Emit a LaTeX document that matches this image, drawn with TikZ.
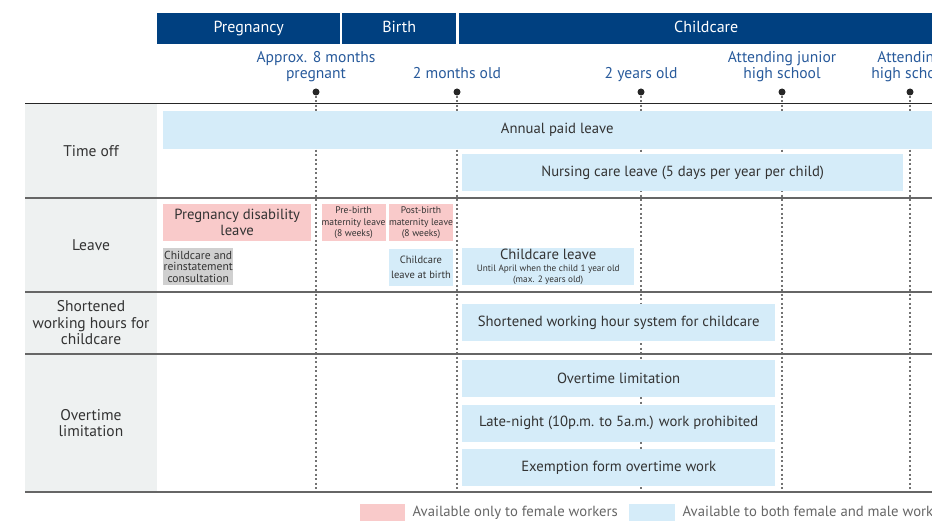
\documentclass[tikz,border=0pt]{standalone}
\usepackage{fontspec}
\setmainfont{PT Sans}
\usetikzlibrary{positioning}
\definecolor{hdrblue}{RGB}{0,64,128}
\definecolor{milblue}{RGB}{40,90,155}
\definecolor{paleblue}{RGB}{213,236,249}
\definecolor{palepink}{RGB}{249,202,202}
\definecolor{boxgray}{RGB}{208,208,208}
\definecolor{colgray}{RGB}{238,241,241}
\definecolor{txtgray}{RGB}{51,51,51}
\tikzstyle{hdr} = [fill=hdrblue, text=white, minimum height=31pt, inner sep=0pt, anchor=north west, text height=11.5pt, text depth=3.5pt, font=\fontsize{16}{17}\selectfont]
\tikzstyle{dot} = [draw=none, fill=black!85, circle, minimum size=7pt, inner sep=0pt]
\tikzstyle{mile} = [text=milblue, align=center, inner sep=0pt, text depth=4pt, font=\fontsize{15.6}{15.5}\selectfont]
\tikzstyle{bar} = [minimum height=37pt, inner sep=0pt, anchor=north west, align=center, text=txtgray, font=\fontsize{14.7}{16}\selectfont]
\tikzstyle{both} = [bar, fill=paleblue]
\tikzstyle{female} = [bar, fill=palepink]
\tikzstyle{row} = [align=center, text=txtgray, font=\fontsize{15.5}{16.5}\selectfont]
\tikzstyle{rule} = [draw=black!60, line width=1.6pt]
\tikzstyle{dotline} = [draw=black!55, line width=1.5pt, dash pattern=on 2pt off 2.5pt]
\tikzstyle{key} = [text=black!60, inner sep=0pt, text height=11pt, text depth=3.5pt, font=\fontsize{14.7}{16}\selectfont]

\begin{document}
\begin{tikzpicture}[x=1pt,y=-1pt,node distance=7pt]
\useasboundingbox (0,0) rectangle (932,521);
\clip (0,0) rectangle (932,521);

% left column
\fill[colgray] (25,104) rectangle (157,492);

% header
\node[hdr, minimum width=183pt] (preg) at (157,13) {Pregnancy};
\node[hdr, minimum width=114pt] (birth) at (342,13) {Birth};
\node[hdr, minimum width=494pt] (care) at (459,13) {Childcare};

% milestones
\foreach \i/\x in {1/316,2/457,3/641,4/782,5/910} {
  \node[dot] (m\i) at (\x,92) {};
  \coordinate (e\i) at (\x,492);
  \draw[dotline] (m\i) -- (e\i);
}
\node[mile, above=6pt of m1] {Approx. 8 months\\pregnant};
\node[mile, above=6pt of m2] {2 months old};
\node[mile, above=6pt of m3] {2 years old};
\node[mile, above=6pt of m4] {Attending junior\\high school};
\node[mile, above=6pt of m5] {Attending\\high school};

% rules
\draw[line width=1pt, black!85] (25,104) -- (932,104);
\foreach \y in {198,292,354,492}
  \draw[rule] (25,\y) -- (932,\y);

% row labels
\node[row] (r1) at (91,151) {Time off};
\node[row] (r2) at (91,245) {Leave};
\node[row] (r3) at (91,323) {Shortened\\working hours for\\childcare};
\node[row] (r4) at (91,423) {Overtime\\limitation};

% time off
\node[both, minimum width=788pt, minimum height=38pt] (annual) at (163,111) {Annual paid leave};
\node[both, minimum width=441pt] (nursing) at (462,154) {Nursing care leave (5 days per year per child)};

% leave
\node[female, minimum width=148pt] (pregdis) at (163,204) {Pregnancy disability\\leave};
\node[female, minimum width=64pt, right=10pt of pregdis.north east, anchor=north west,
  font=\fontsize{9.6}{11.5}\selectfont] (prebirth) {Pre-birth\\maternity leave\\(8 weeks)};
\node[female, minimum width=64pt, right=3pt of prebirth.north east, anchor=north west,
  font=\fontsize{9.6}{11.5}\selectfont] (postbirth) {Post-birth\\maternity leave\\(8 weeks)};
\node[bar, fill=boxgray, minimum width=70pt, font=\fontsize{11.6}{11.5}\selectfont] (consult) at (163,248) {Childcare and\\reinstatement\\consultation};
\node[both, minimum width=64pt, below=7pt of postbirth.south west, anchor=north west,
  font=\fontsize{10.5}{15.5}\selectfont] (atbirth) {Childcare\\leave at birth};
\node[both, minimum width=172pt] (ccleave) at (462,248)
  {Childcare leave\\[-4pt]{\fontsize{9.2}{10}\selectfont Until April when the child 1 year old}\\[-5pt]{\fontsize{9.2}{10}\selectfont (max. 2 years old)}};

% shortened hours
\node[both, minimum width=313pt] (short) at (462,304) {Shortened working hour system for childcare};

% overtime
\node[both, minimum width=313pt] (ot1) at (462,360) {Overtime limitation};
\node[both, minimum width=313pt, below=7pt of ot1.south west, anchor=north west] (ot2) {Late-night (10p.m. to 5a.m.) work prohibited};
\node[both, minimum width=313pt, below=7pt of ot2.south west, anchor=north west] (ot3) {Exemption form overtime work};

% legend
\node[bar, fill=palepink, minimum width=45pt, minimum height=18pt] (lgf) at (360,504) {};
\node[key, right=7pt of lgf] (lgft) {Available only to female workers};
\node[bar, fill=paleblue, minimum width=46pt, minimum height=18pt] (lgb) at (629,504) {};
\node[key, right=7pt of lgb] (lgbt) {Available to both female and male workers};
\end{tikzpicture}
\end{document}
